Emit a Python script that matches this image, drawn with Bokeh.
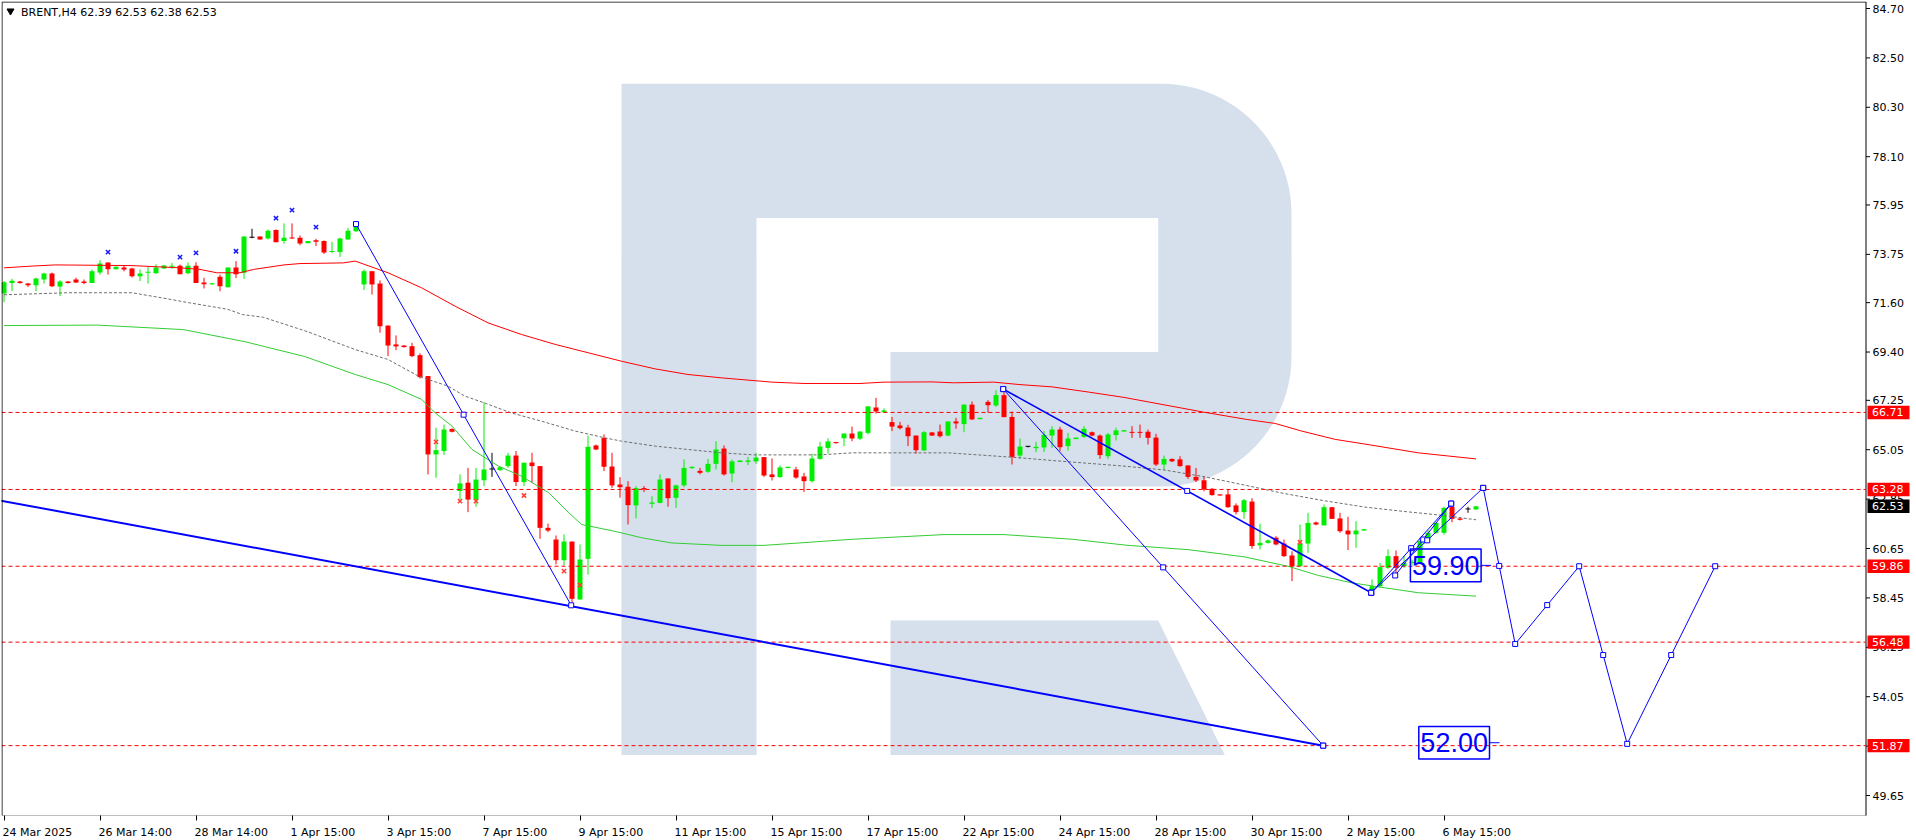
import numpy as np
from bokeh.plotting import figure
from bokeh.models import Range1d, FixedTicker, CustomJSTickFormatter, PrintfTickFormatter
from bokeh.embed import file_html
from bokeh.resources import INLINE
from bokeh.core.properties import value

# ---------------- data ----------------
opens = [72.01,72.47,72.54,72.45,72.38,72.63,72.90,72.32,72.54,72.63,72.54,72.47,72.94,73.39,73.09,73.17,73.12,72.78,72.93,72.91,
         73.12,73.20,73.24,72.91,73.24,72.50,72.42,72.75,72.29,73.17,72.93,74.49,74.55,74.46,74.83,74.34,74.49,74.49,74.25,74.38,
         74.34,73.85,73.85,74.41,74.78,72.41,73.00,72.45,70.58,69.74,69.69,69.66,69.26,68.33,64.84,64.99,65.97,63.21,63.58,62.83,
         63.69,64.17,64.14,64.32,64.79,63.61,64.48,64.32,61.57,61.05,60.13,60.96,58.38,60.19,65.24,65.57,64.30,63.50,63.40,62.57,
         63.34,62.64,62.68,63.77,62.91,63.46,64.23,64.11,64.07,64.42,65.10,63.99,64.50,64.51,64.53,64.72,63.95,63.83,64.23,64.17,
         63.86,63.65,64.64,65.13,65.39,65.56,65.77,65.54,65.80,66.93,66.72,66.28,66.13,66.04,65.68,65.02,65.82,65.86,65.68,66.31,
         66.19,67.06,66.41,67.18,67.02,67.48,66.51,64.79,65.18,65.12,65.15,65.68,65.95,65.21,65.52,65.62,65.83,65.68,64.76,65.70,
         65.86,65.83,65.83,65.85,65.59,64.39,64.64,64.62,64.35,63.84,63.69,63.31,63.06,63.06,62.57,62.27,62.74,60.79,60.90,61.13,
         60.87,60.34,59.86,60.87,61.81,61.68,62.49,61.99,61.45,61.28,61.45,58.80,58.97,59.79,60.31,59.86,60.01,60.01,61.05,61.35,
         61.35,62.51,61.99,62.39,62.39]
highs = [72.56,72.66,72.57,72.48,72.71,72.93,72.94,72.60,72.56,72.71,72.63,73.08,73.49,73.39,73.21,73.23,73.15,73.08,73.20,73.31,
         73.28,73.37,73.30,73.39,73.40,72.71,72.48,72.85,73.17,73.45,74.55,74.89,74.55,74.86,74.86,75.13,75.13,74.59,74.34,74.44,
         74.37,74.31,74.49,74.93,75.00,73.08,73.00,72.59,70.58,70.14,69.70,69.81,69.34,68.33,66.03,66.17,66.00,63.95,64.24,64.24,
         67.17,64.91,64.30,64.91,64.99,64.47,64.91,64.32,61.76,61.23,61.28,60.96,60.83,65.68,65.28,65.73,64.91,63.83,63.65,63.43,
         63.43,62.98,63.95,63.77,63.50,64.62,64.30,64.24,64.64,65.43,65.24,64.61,64.57,64.73,64.91,64.72,64.66,64.35,64.29,64.29,
         64.02,64.88,65.40,65.56,65.40,65.77,66.08,65.86,66.98,67.36,66.89,66.51,66.29,66.16,65.68,65.88,65.84,66.17,66.31,66.47,
         67.06,67.20,66.47,67.26,67.70,67.61,66.75,65.55,65.21,65.40,65.88,66.10,66.07,65.80,65.59,66.10,65.86,65.73,65.80,66.03,
         65.93,66.10,66.17,65.95,65.76,64.79,64.66,64.76,64.35,64.24,63.84,63.34,63.07,63.28,62.66,62.86,62.89,61.76,61.05,61.20,
         61.05,60.53,61.72,62.24,61.85,62.61,62.50,62.24,62.06,61.87,61.53,59.27,60.01,60.61,60.56,60.31,60.15,61.13,61.47,61.80,
         62.51,62.57,62.00,62.51,62.53]
lows = [71.62,72.11,72.44,72.30,72.11,72.45,72.29,71.89,72.45,72.47,72.42,72.47,72.85,72.85,73.08,72.99,72.72,72.56,72.45,72.88,
        73.11,73.11,72.87,72.87,72.47,72.23,72.39,72.11,72.29,72.69,72.66,74.47,74.41,74.41,74.29,74.23,74.44,74.16,74.25,74.12,
        73.77,73.82,73.63,74.41,74.75,72.16,71.96,70.26,69.22,69.48,69.60,69.17,68.22,63.95,63.80,64.81,65.82,62.83,62.27,62.51,
        63.43,63.84,64.11,64.24,63.43,63.43,63.58,61.08,61.38,59.94,59.89,58.26,58.38,59.49,65.03,64.10,63.35,62.91,61.72,61.99,
        63.16,62.46,62.66,62.51,62.46,63.38,64.20,63.95,64.02,64.17,63.90,63.60,64.50,64.36,64.42,63.84,63.68,63.80,64.23,63.75,
        63.16,63.58,64.61,64.88,65.33,65.21,65.43,65.48,65.73,66.66,66.69,65.88,65.95,65.21,64.88,64.99,65.66,65.59,65.65,65.98,
        65.83,66.37,66.41,66.69,66.96,66.50,64.39,64.64,65.15,64.94,64.94,65.13,64.99,65.01,65.52,65.58,65.65,64.64,64.64,65.46,
        65.86,65.58,65.58,65.28,64.32,64.14,64.50,64.29,63.75,63.61,63.20,63.00,63.00,62.46,62.17,61.97,60.64,60.61,60.87,60.79,
        60.27,59.20,59.86,60.46,61.68,61.68,61.97,61.35,60.58,60.68,61.44,58.71,58.90,59.75,59.49,59.79,59.90,59.95,60.98,61.30,
        61.27,61.82,61.90,62.24,62.38]
closes = [72.51,72.57,72.47,72.38,72.68,72.90,72.33,72.54,72.47,72.50,72.47,73.00,73.34,73.09,73.20,73.08,72.78,72.90,72.96,73.17,
          73.25,73.24,72.87,73.24,72.47,72.42,72.45,72.33,73.17,72.87,74.55,74.49,74.41,74.80,74.29,74.49,74.46,74.23,74.34,74.31,
          73.83,73.89,74.46,74.80,74.98,73.00,72.41,70.55,69.69,69.65,69.62,69.22,68.28,64.84,65.03,65.95,65.85,63.55,62.83,63.72,
          64.17,64.17,64.27,64.79,63.61,64.47,64.32,61.57,61.45,60.13,60.96,58.41,60.16,65.18,65.06,64.29,63.46,63.38,62.58,63.34,
          63.28,62.70,63.72,62.89,63.46,64.24,64.29,64.02,64.42,65.06,63.95,64.53,64.57,64.57,64.70,63.90,63.83,64.26,64.29,63.81,
          63.65,64.66,65.19,65.42,65.34,65.77,65.55,65.86,66.98,66.75,66.80,66.08,66.01,65.65,65.03,65.83,65.68,65.65,66.31,66.22,
          67.06,66.40,66.47,67.03,67.48,66.50,64.73,65.19,65.18,65.18,65.71,65.95,65.16,65.55,65.59,65.98,65.68,64.81,65.73,65.91,
          65.92,65.80,65.80,65.58,64.39,64.64,64.53,64.32,63.84,63.68,63.28,63.03,63.01,62.49,62.27,62.80,60.76,60.90,61.01,60.83,
          60.31,59.86,60.86,61.79,61.72,62.49,61.97,61.42,61.28,61.45,61.51,58.97,59.82,60.31,59.79,60.01,60.05,60.98,61.35,61.79,
          62.46,61.97,61.93,62.39,62.53]

x_tick_bars = [0, 12, 24, 36, 48, 60, 72, 84, 96, 108, 120, 132, 144, 156, 168, 180]
x_tick_labels = ["24 Mar 2025", "26 Mar 14:00", "28 Mar 14:00", "1 Apr 15:00", "3 Apr 15:00", "7 Apr 15:00",
                 "9 Apr 15:00", "11 Apr 15:00", "15 Apr 15:00", "17 Apr 15:00", "22 Apr 15:00", "24 Apr 15:00",
                 "28 Apr 15:00", "30 Apr 15:00", "2 May 15:00", "6 May 15:00"]
y_ticks = [84.70, 82.50, 80.30, 78.10, 75.95, 73.75, 71.60, 69.40, 67.25, 65.05, 62.85, 60.65, 58.45, 56.25, 54.05, 51.85, 49.65]

levels = [66.71, 63.28, 59.86, 56.48, 51.87]
last_price = 62.53
header = "BRENT,H4  62.39 62.53 62.38 62.53"

# indicator lines (bar index, price)
red_ma_x = [0, 3.6, 6.4, 16, 22, 24.5, 26.6, 29.5, 31.2, 35, 37, 42.4, 43.9, 48, 52.2, 56.4, 60.5, 64.7, 68.9, 73, 77.2, 81.4,
            85.5, 89.7, 93, 96, 100, 107, 110, 116, 118.7, 123.7, 127, 131, 135.7, 140, 145, 150, 155.3, 158.9, 162.2, 166.4,
            170.5, 176.8, 184]
red_ma_y = [73.15, 73.23, 73.28, 73.25, 73.15, 73.08, 72.93, 72.93, 73.08, 73.28, 73.34, 73.37, 73.45, 72.93, 72.26, 71.44,
            70.70, 70.18, 69.74, 69.37, 68.99, 68.65, 68.40, 68.25, 68.15, 68.06, 68.00, 68.00, 68.06, 68.07, 68.03, 68.06,
            67.95, 67.85, 67.61, 67.38, 67.05, 66.72, 66.40, 66.22, 65.88, 65.51, 65.28, 64.91, 64.64]
grey_ma_x = [0, 8, 16, 19.8, 23.2, 25.7, 28, 29.8, 32.4, 38, 43.9, 48, 51.8, 55.5, 57.6, 60, 63.4, 67.2, 71.4, 75.1, 77.2, 81.4,
             85.5, 89.7, 93.7, 102, 106, 118, 123, 127, 131, 135.7, 140, 145, 150, 155, 160, 165, 170, 175, 180, 184]
grey_ma_y = [71.95, 72.04, 72.04, 71.81, 71.59, 71.44, 71.30, 71.07, 70.95, 70.30, 69.51, 69.07, 68.33, 67.88, 67.44, 67.14,
             66.69, 66.32, 65.88, 65.58, 65.43, 65.21, 65.06, 64.91, 64.82, 64.82, 64.91, 64.91, 64.79, 64.69, 64.57, 64.44,
             64.32, 64.15, 63.85, 63.48, 63.10, 62.78, 62.50, 62.30, 62.12, 61.93]
green_ma_x = [0, 11.7, 22.4, 30, 37.6, 43.9, 48, 52.2, 53.9, 56, 58.5, 61.8, 64.7, 68.1, 70.6, 72.2, 76.3, 79.7, 83.4, 89.7,
              95, 106, 117.5, 125, 133.6, 140.5, 148, 155, 160.5, 164.3, 168.5, 172.6, 176.8, 184]
green_ma_y = [70.58, 70.60, 70.40, 69.87, 69.20, 68.40, 67.95, 67.29, 66.69, 66.10, 65.06, 64.32, 63.87, 63.13, 62.24, 61.72,
              61.42, 61.13, 60.90, 60.79, 60.79, 61.06, 61.27, 61.27, 61.06, 60.79, 60.60, 60.28, 59.86, 59.45, 59.12, 58.90,
              58.68, 58.53]

# marks above / below bars
blue_x_bars = [13, 22, 24, 29, 34, 36, 39]
blue_x_vals = [73.85, 73.63, 73.82, 73.89, 75.36, 75.72, 74.96]
red_x_bars = [54, 57, 59, 65, 70, 72, 162]
red_x_vals = [65.40, 62.76, 62.76, 63.01, 59.64, 59.02, 60.93]

# wave / trend lines
wave_x0 = [-0.5, 44.0, 124.9, 124.9, 170.9, 173.9, 170.9]
wave_y0 = [62.79, 75.10, 67.75, 67.75, 58.68, 59.45, 58.68]
wave_x1 = [164.9, 70.9, 170.9, 164.9, 180.9, 180.9, 184.9]
wave_y1 = [51.87, 58.12, 58.68, 51.87, 62.65, 62.65, 63.35]
wave_w = [2, 1, 1.6, 1, 1, 1, 1]
wave_marked = [False, True, True, True, True, True, True]

# forecast path
fc_x = [184.9, 188.9, 196.9, 202.9, 213.9]
fc_y = [63.35, 56.40, 59.86, 51.95, 59.86]
fc_label_vals = [59.90, 52.00]
fc_label_left = [175.8, 176.85]

# ---------------- geometry ----------------
FRAME_W, FRAME_H = 1910, 814        # chart area + price strip
BAR_PX = 8.0
X0 = -0.3125
X1 = X0 + FRAME_W / BAR_PX
PPX = (84.70 - 49.65) / 787.0
Y_TOP = 84.70 + 7 * PPX
Y_BOT = Y_TOP - FRAME_H * PPX


def X(px):  # page pixel -> bar index
    return X0 + (px - 2) / BAR_PX


def Y(py):  # page pixel -> price
    return Y_TOP - (py - 2) * PPX


CHART_R = 1866  # right border of the chart area (px)

p = figure(frame_width=FRAME_W, frame_height=FRAME_H, x_range=Range1d(X0, X1), y_range=Range1d(Y_BOT, Y_TOP),
           output_backend="svg", toolbar_location=None, y_axis_location="right",
           min_border_left=1, min_border_top=1, min_border_right=3, min_border_bottom=22)
p.background_fill_color = "white"
p.border_fill_color = "white"
p.outline_line_color = None
p.xgrid.visible = False
p.ygrid.visible = False

# ---- watermark "R" ----
wm = "#d6e0ec"
t = np.linspace(0, np.pi / 2, 24)
arc1 = [(1162 + 130 * np.sin(a), 214.3 - 130 * np.cos(a)) for a in t]
arc2 = [(1162 + 130 * np.cos(a), 357 + 130 * np.sin(a)) for a in t]
poly = [(622, 84.3), (1162, 84.3)] + arc1 + arc2 + [(891, 487), (891, 352.5), (1158.7, 352.5), (1158.7, 218.4),
                                                    (757, 218.4), (757, 755.6), (622, 755.6)]
leg = [(891, 621), (1158.7, 621), (1225.3, 755.6), (891, 755.6)]
p.patches(xs=[[X(a) for a, b in poly], [X(a) for a, b in leg]],
          ys=[[Y(b) for a, b in poly], [Y(b) for a, b in leg]],
          fill_color=wm, line_color=None)

# ---- candles ----
idx = np.arange(len(opens))
o = np.array(opens); h = np.array(highs); l = np.array(lows); c = np.array(closes)
UP, DN, DJ = "#00ee00", "#ff0000", "#000000"
cols = np.where(c > o, UP, np.where(c < o, DN, DJ)).tolist()
p.segment(x0=idx, x1=idx, y0=l, y1=h, line_color=cols, line_width=1)
top = np.maximum(o, c); bot = np.minimum(o, c)
top = np.where(top - bot < PPX, bot + PPX, top)
p.vbar(x=idx, width=5 / BAR_PX, top=top, bottom=bot, fill_color=cols, line_color=None)

# ---- indicators ----
p.line(green_ma_x, green_ma_y, line_color="#32cd32", line_width=1)
p.line(grey_ma_x, grey_ma_y, line_color="#6e6e6e", line_width=1, line_dash="3 2")
p.line(red_ma_x, red_ma_y, line_color="#ff0000", line_width=1)

# ---- horizontal levels ----
p.segment(x0=[X0] * len(levels), x1=[X(CHART_R)] * len(levels), y0=levels, y1=levels,
          line_color="#ff0000", line_width=1, line_dash="4 3")

# ---- markers ----
p.scatter(blue_x_bars, blue_x_vals, marker="x", size=6, line_color="#1a1aff", line_width=1.5)
p.scatter(red_x_bars, red_x_vals, marker="x", size=6, line_color="#ff4030", line_width=1.5)

# ---- wave lines ----
sq_x, sq_y = [], []
for x0, y0, x1, y1, w, mk in zip(wave_x0, wave_y0, wave_x1, wave_y1, wave_w, wave_marked):
    p.line([x0, x1], [y0, y1], line_color="#0000ff", line_width=w)
    if mk:
        sq_x += [x0, (x0 + x1) / 2, x1]
        sq_y += [y0, (y0 + y1) / 2, y1]
sq_x.append(wave_x1[0]); sq_y.append(wave_y1[0])
p.line(fc_x, fc_y, line_color="#0000ff", line_width=1)
for k in range(len(fc_x)):
    sq_x.append(fc_x[k]); sq_y.append(fc_y[k])
    if k + 1 < len(fc_x):
        sq_x.append((fc_x[k] + fc_x[k + 1]) / 2); sq_y.append((fc_y[k] + fc_y[k + 1]) / 2)
p.scatter(sq_x, sq_y, marker="square", size=5, fill_color="white", line_color="#0000ff", line_width=1)

# ---- forecast value labels ----
bw = 70.7 / BAR_PX
bh = 32.7 * PPX
for v, lft in zip(fc_label_vals, fc_label_left):
    p.quad(left=[lft], right=[lft + bw], top=[v + bh / 2], bottom=[v - bh / 2],
           fill_color=None, line_color="#0000ff", line_width=1.5)
    p.line([lft + bw, lft + bw + 10 / BAR_PX], [v, v], line_color="#0000ff", line_width=1)
    p.text(x=[lft + bw / 2], y=[v], text=[f"{v:.2f}"], text_font=value("Liberation Sans"), text_font_size="27px",
           text_align="center", text_baseline="middle", text_color="#0000ff")

# ---- header ----
p.scatter([X(11)], [Y(11.5)], marker="inverted_triangle", size=7, fill_color="black", line_color="black")
p.text(x=[X(21.5)], y=[Y(12.5)], text=[header], text_font=value("DejaVu Sans"), text_font_size="11px",
       text_align="left", text_baseline="middle", text_color="black")

# ---- chart border (the price strip to its right has no frame) ----
p.quad(left=[X(2.5)], right=[X(CHART_R + 0.5)], top=[Y(2.5)], bottom=[Y(816.5)],
       fill_color=None, line_color="black", line_width=1)
# price-scale tick marks
p.segment(x0=[X(CHART_R + 0.5)] * len(y_ticks), x1=[X(CHART_R + 4.5)] * len(y_ticks), y0=y_ticks, y1=y_ticks,
          line_color="black", line_width=1)

# ---- axes ----
p.yaxis.ticker = FixedTicker(ticks=y_ticks)
p.yaxis.formatter = PrintfTickFormatter(format="%.2f")
p.yaxis.axis_line_color = None
p.yaxis.major_tick_line_color = None
p.yaxis.major_tick_out = 0
p.yaxis.major_tick_in = 0
p.yaxis.minor_tick_line_color = None
p.yaxis.major_label_text_font = "DejaVu Sans"
p.yaxis.major_label_text_font_size = "11px"
p.yaxis.major_label_text_color = "black"
# the price labels sit just right of the chart border, inside the price strip
p.yaxis.major_label_standoff = int(-(2 + FRAME_W - (CHART_R + 7)))

W = {"0": 1303, " ": 651, ":": 690, "M": 1767, "a": 1255, "r": 842, "A": 1401, "p": 1300, "y": 1212}


def text_w(s):
    return sum(W.get(ch, 1303) for ch in s) * 11 / 2048.0


label_pos = [b + (text_w(s) / 2 - 1.5) / BAR_PX for b, s in zip(x_tick_bars, x_tick_labels)]
p.xaxis.ticker = FixedTicker(ticks=label_pos, minor_ticks=x_tick_bars)
p.xaxis.formatter = CustomJSTickFormatter(args=dict(pos=label_pos, labels=x_tick_labels), code="""
let best = 0;
for (let k = 0; k < pos.length; k++) { if (Math.abs(pos[k] - tick) < Math.abs(pos[best] - tick)) best = k; }
return labels[best];
""")
p.xaxis.axis_line_color = None
p.xaxis.major_tick_line_color = None
p.xaxis.major_tick_out = 0
p.xaxis.minor_tick_line_color = "black"
p.xaxis.minor_tick_out = 5
p.xaxis.minor_tick_in = 0
p.xaxis.major_label_standoff = 5
p.xaxis.major_label_text_font = "DejaVu Sans"
p.xaxis.major_label_text_font_size = "11px"
p.xaxis.major_label_text_color = "black"

# ---- value boxes on the price scale (drawn above the axis labels) ----
box_vals = levels + [last_price]
box_cols = ["#ff0000"] * len(levels) + ["#000000"]
bx_h = 13.4 * PPX
p.quad(left=[X(1868)] * len(box_vals), right=[X(1910)] * len(box_vals),
       top=[v + bx_h / 2 for v in box_vals], bottom=[v - bx_h / 2 for v in box_vals],
       fill_color=box_cols, line_color=None, level="overlay")
p.text(x=[X(1872.5)] * len(box_vals), y=box_vals, text=[f"{v:.2f}" for v in box_vals],
       text_font=value("DejaVu Sans"), text_font_size="11px", text_align="left", text_baseline="middle",
       text_color="white", level="overlay")

open("out.html", "w").write(file_html(p, INLINE))
